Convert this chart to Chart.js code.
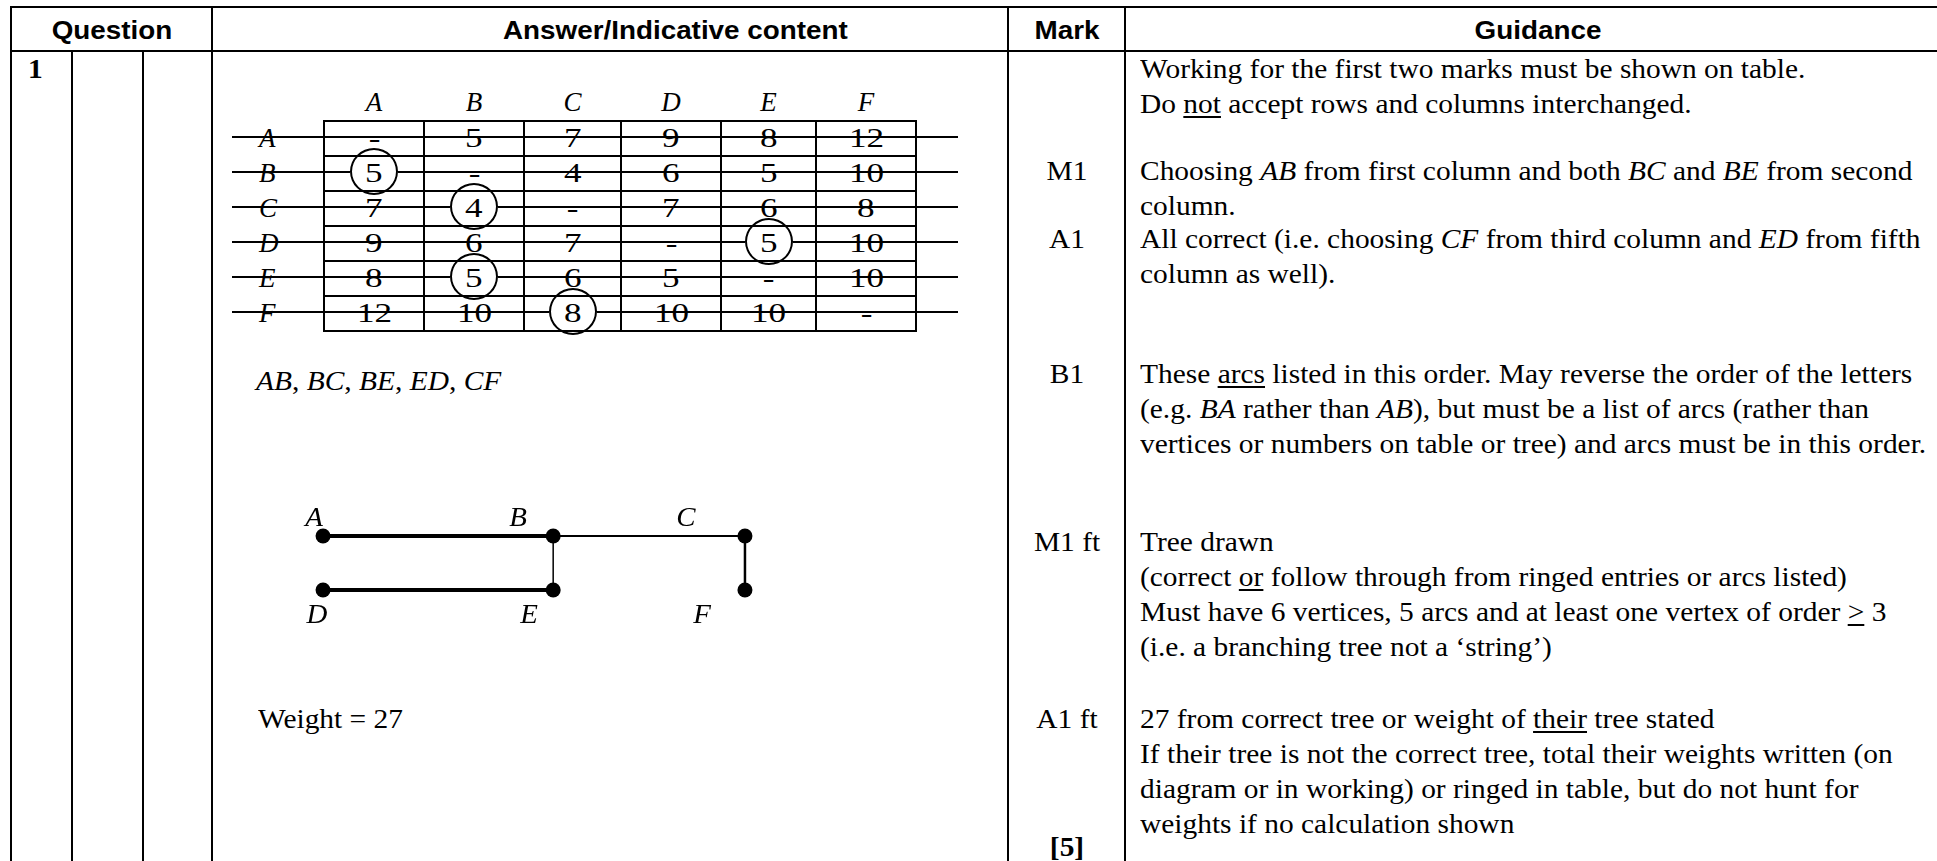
<!DOCTYPE html>
<html>
<head>
    <meta charset="UTF-8">
    <title>Question 1 - minimum spanning tree</title>
    <script src="https://cdn.jsdelivr.net/npm/chart.js@4.4.1/dist/chart.umd.min.js"></script>
    <style>
        html, body { margin: 0; padding: 0; background: #fff; overflow: hidden; }
        #page { position: relative; width: 1937px; height: 861px; overflow: hidden; color: #000;
                font-family: "Liberation Serif", "Times New Roman", serif; font-size: 27px; }
        .ln { position: absolute; background: #000; }
        .t { position: absolute; white-space: nowrap; line-height: 35px; transform: scaleX(1.09); transform-origin: 0 50%; }
        .mid { width: 200px; text-align: center; transform-origin: 50% 50%; }
        .head { font-family: "Liberation Sans", Arial, sans-serif; font-weight: bold; font-size: 26px; line-height: 44px; transform: scaleX(1.07); }
        .b { font-weight: bold; }
        u { text-underline-offset: 3px; }

        #dist { position: absolute; left: 230px; top: 84px; border-collapse: collapse; table-layout: fixed; }
        #dist td { height: 33px; padding: 0; text-align: center; border: 2px solid #000; line-height: 33px; font-size: 27px; }
        #dist tr.top td { border: none; height: 36px; line-height: 36px; }
        #dist td.lab { border: none; text-align: left; padding-left: 29px; }
        #dist .num { display: inline-block; transform: scaleX(1.3); }
        .ring { position: absolute; width: 44px; height: 43px; border: 2px solid #000; border-radius: 50%; }
        #tree { position: absolute; left: 258px; top: 488px; }
    </style>
</head>
<body>
<div id="page">
    <div class="t head mid" style="left:12px; top:8px;">Question</div>
    <div class="t head mid" style="left:510px; top:8px;">Answer/Indicative content</div>
    <div class="t head mid" style="left:967px; top:8px;">Mark</div>
    <div class="t head mid" style="left:1438px; top:8px;">Guidance</div>

    <div class="t b" style="left:28px; top:52px;">1</div>

    <table id="dist"></table>
    <div class="t" id="arcs" style="left:256px; top:364px;"></div>
    <canvas id="tree" width="552" height="150"></canvas>
    <div class="t" id="weight" style="left:258px; top:702px;"></div>

    <div class="t mid" style="left:967px; top:154px;">M1</div>
    <div class="t mid" style="left:967px; top:222px;">A1</div>
    <div class="t mid" style="left:967px; top:357px;">B1</div>
    <div class="t mid" style="left:967px; top:525px;">M1 ft</div>
    <div class="t mid" style="left:967px; top:702px;">A1 ft</div>
    <div class="t mid b" style="left:967px; top:830px;">[5]</div>

    <div class="t" style="left:1140px; top:52px;">Working for the first two marks must be shown on table.<br>Do <u>not</u> accept rows and columns interchanged.</div>
    <div class="t" style="left:1140px; top:154px;">Choosing <i>AB</i> from first column and both <i>BC</i> and <i>BE</i> from second<br>column.</div>
    <div class="t" style="left:1140px; top:222px;">All correct (i.e. choosing <i>CF</i> from third column and <i>ED</i> from fifth<br>column as well).</div>
    <div class="t" style="left:1140px; top:357px;">These <u>arcs</u> listed in this order. May reverse the order of the letters<br>(e.g. <i>BA</i> rather than <i>AB</i>), but must be a list of arcs (rather than<br>vertices or numbers on table or tree) and arcs must be in this order.</div>
    <div class="t" style="left:1140px; top:525px;">Tree drawn<br>(correct <u>or</u> follow through from ringed entries or arcs listed)<br>Must have 6 vertices, 5 arcs and at least one vertex of order <u>&gt;</u> 3<br>(i.e. a branching tree not a &lsquo;string&rsquo;)</div>
    <div class="t" style="left:1140px; top:702px;">27 from correct tree or weight of <u>their</u> tree stated<br>If their tree is not the correct tree, total their weights written (on<br>diagram or in working) or ringed in table, but do not hunt for<br>weights if no calculation shown</div>
</div>

<script>
    // distance table
    var vertices = ['A', 'B', 'C', 'D', 'E', 'F'];
    var distances = [
        ['-', 5, 7, 9, 8, 12],
        [5, '-', 4, 6, 5, 10],
        [7, 4, '-', 7, 6, 8],
        [9, 6, 7, '-', 5, 10],
        [8, 5, 6, 5, '-', 10],
        [12, 10, 8, 10, 10, '-']
    ];
    // ringed entries [row, column], in the order they were chosen
    var ringed = [[1, 0], [2, 1], [4, 1], [3, 4], [5, 2]];
    var arcsListed = ['AB', 'BC', 'BE', 'ED', 'CF'];

    // tree as drawn
    var treeX = [0, 6, 11, 0, 6, 11];
    var treeY = [1, 1, 1, 0, 0, 0];
    var treeArcs = [['A', 'B'], ['B', 'C'], ['B', 'E'], ['E', 'D'], ['C', 'F']];
    var treeWeight = 27;

    var colWidths = [94, 100, 100, 97, 100, 95, 100];
    var arcWidth = { AB: 4, BC: 2, BE: 1.5, ED: 4, CF: 2.5 };
    var labelShift = { A: [-9, -17], B: [-35, -17], C: [-59, -17], D: [-6, 26], E: [-24, 26], F: [-43, 26] };

    function line(x, y, w, h) {
        var d = document.createElement('div');
        d.className = 'ln';
        d.style.cssText = 'left:' + x + 'px;top:' + y + 'px;width:' + w + 'px;height:' + h + 'px;';
        document.getElementById('page').appendChild(d);
    }

    // outer grid of the mark scheme
    line(10, 6, 1927, 2);
    line(10, 50, 1927, 2);
    [10, 211, 1007, 1124].forEach(function(x) { line(x, 6, 2, 861); });
    [71, 142].forEach(function(x) { line(x, 50, 2, 861); });

    // build the distance table
    var html = '<colgroup>' + colWidths.map(function(w) { return '<col style="width:' + w + 'px">'; }).join('') + '</colgroup>';
    html += '<tr class="top"><td class="lab"></td>' + vertices.map(function(v) { return '<td><i>' + v + '</i></td>'; }).join('') + '</tr>';
    distances.forEach(function(row, i) {
        html += '<tr><td class="lab"><i>' + vertices[i] + '</i></td>' +
            row.map(function(d) { return '<td><span class="num">' + d + '</span></td>'; }).join('') + '</tr>';
    });
    var tbl = document.getElementById('dist');
    tbl.innerHTML = html;

    // rings round the chosen entries, rows crossed out
    var page = document.getElementById('page');
    var ringAt = {};
    ringed.forEach(function(rc) {
        var r = tbl.rows[rc[0] + 1].cells[rc[1] + 1].getBoundingClientRect();
        var cx = r.left + r.width / 2, cy = r.top + r.height / 2 - 2;
        var d = document.createElement('div');
        d.className = 'ring';
        d.style.left = (cx - 24) + 'px';
        d.style.top = (cy - 23.5) + 'px';
        page.appendChild(d);
        (ringAt[rc[0]] = ringAt[rc[0]] || []).push(cx);
    });
    distances.forEach(function(row, i) {
        var r = tbl.rows[i + 1].getBoundingClientRect();
        var y = r.top + r.height / 2 - 2.5;
        var x0 = 232;
        (ringAt[i] || []).sort(function(a, b) { return a - b; }).forEach(function(cx) {
            line(x0, y, cx - 24 - x0, 2);
            x0 = cx + 24;
        });
        line(x0, y, 958 - x0, 2);
    });

    document.getElementById('arcs').innerHTML = arcsListed.map(function(a) { return '<i>' + a + '</i>'; }).join(', ');
    document.getElementById('weight').textContent = 'Weight = ' + treeWeight;

    // tree drawn with Chart.js
    var at = {};
    vertices.forEach(function(v, i) { at[v] = { x: treeX[i], y: treeY[i] }; });

    var datasets = treeArcs.map(function(arc) {
        return {
            data: [at[arc[0]], at[arc[1]]],
            showLine: true,
            borderColor: '#000',
            borderWidth: arcWidth[arc[0] + arc[1]],
            pointRadius: 0,
            order: 1
        };
    });
    datasets.push({
        data: vertices.map(function(v) { return at[v]; }),
        showLine: false,
        pointRadius: 7.5,
        pointBackgroundColor: '#000',
        pointBorderWidth: 0,
        order: 0
    });

    var vertexNames = {
        id: 'vertexNames',
        afterDatasetsDraw: function(chart) {
            var ctx = chart.ctx;
            var meta = chart.getDatasetMeta(chart.data.datasets.length - 1);
            ctx.save();
            ctx.font = 'italic 27px "Liberation Serif"';
            ctx.fillStyle = '#000';
            ctx.textAlign = 'center';
            ctx.textBaseline = 'middle';
            meta.data.forEach(function(pt, i) {
                var s = labelShift[vertices[i]];
                ctx.save();
                ctx.translate(pt.x + s[0], pt.y + s[1]);
                ctx.scale(1.07, 1);
                ctx.fillText(vertices[i], 0, 0);
                ctx.restore();
            });
            ctx.restore();
        }
    };

    new Chart('tree', {
        type: 'scatter',
        data: { datasets: datasets },
        options: {
            responsive: false,
            animation: false,
            events: [],
            layout: { padding: 0 },
            plugins: { legend: { display: false }, tooltip: { enabled: false } },
            scales: {
                x: { type: 'linear', display: false, min: -1.5, max: 12.5 },
                y: { type: 'linear', display: false, min: -0.75, max: 1.75 }
            }
        },
        plugins: [vertexNames]
    });
</script>
</body>
</html>
